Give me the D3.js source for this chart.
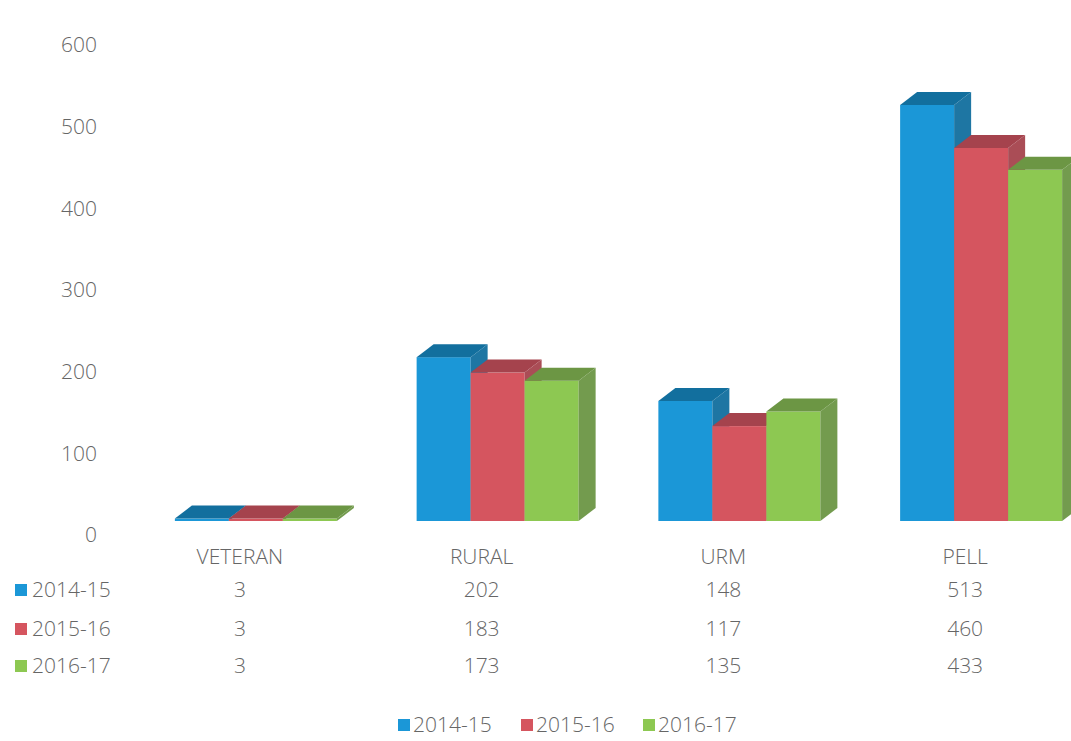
<!DOCTYPE html>
<html>
<head>
<meta charset="utf-8">
<script src="https://cdn.jsdelivr.net/npm/d3@7/dist/d3.min.js"></script>
<style>
  html, body { margin: 0; padding: 0; background: #fff; }
  svg { display: block; }
  text { font-family: "Open Sans", "Noto Sans", sans-serif; fill: #666666; font-weight: 300; }
</style>
</head>
<body>
<svg id="chart" width="1071" height="741"></svg>
<script>
const categories = ["VETERAN", "RURAL", "URM", "PELL"];
const seriesNames = ["2014-15", "2015-16", "2016-17"];
const values2014 = [3, 202, 148, 513];
const values2015 = [3, 183, 117, 460];
const values2016 = [3, 173, 135, 433];
const tickValues = [0, 100, 200, 300, 400, 500, 600];

const seriesValues = [values2014, values2015, values2016];
const frontColors = ["#1b97d7", "#d5555f", "#8dc852"];
const darkColors = ["#126f9e", "#a5434d", "#6c9644"];

const svg = d3.select("#chart");

// scales
const x = d3.scaleBand().domain(categories).range([119, 1086]);
const xs = d3.scaleBand().domain(seriesNames).range([0, 162]);
const yFront = d3.scaleLinear().domain([0, 600]).range([521, 34.4]);
const yAxis = d3.scaleLinear().domain([0, 600]).range([535, 45]);
const depthX = 17, depthY = -13;
const groupShift = -65; // group front start relative to category center

// y axis labels
const axisG = svg.append("g")
  .attr("transform", "translate(97,0)")
  .call(d3.axisLeft(yAxis).tickValues(tickValues).tickSize(0).tickPadding(0).tickFormat(d3.format("d")));
axisG.select(".domain").remove();
axisG.selectAll("text")
  .style("font-family", '"Open Sans", "Noto Sans", sans-serif')
  .style("font-size", "21px")
  .style("font-weight", "300")
  .attr("fill", "#666666");

// bars
const barsG = svg.append("g");
categories.forEach((cat, ci) => {
  const center = x(cat) + x.bandwidth() / 2;
  seriesNames.forEach((s, si) => {
    const v = seriesValues[si][ci];
    const x0 = center + groupShift + xs(s);
    const w = xs.bandwidth();
    const yT = yFront(v);
    const yB = yFront(0);
    const g = barsG.append("g");
    g.append("rect")
      .attr("x", x0).attr("y", yT)
      .attr("width", w).attr("height", Math.max(0, yB - yT))
      .attr("fill", frontColors[si]);
    g.append("polygon")
      .attr("points", [[x0, yT], [x0 + w, yT], [x0 + w + depthX, yT + depthY], [x0 + depthX, yT + depthY]].map(p => p.join(",")).join(" "))
      .attr("fill", darkColors[si]);
    g.append("polygon")
      .attr("points", [[x0 + w, yT], [x0 + w + depthX, yT + depthY], [x0 + w + depthX, yB + depthY], [x0 + w, yB]].map(p => p.join(",")).join(" "))
      .attr("fill", darkColors[si])
      .attr("opacity", 0.95);
  });
});

// data table
const headerY = 557;
const rowYs = [590, 629, 666];
const tableG = svg.append("g").style("font-size", "21px");
categories.forEach(cat => {
  tableG.append("text")
    .attr("x", x(cat) + x.bandwidth() / 2)
    .attr("y", headerY)
    .attr("dy", "0.35em")
    .attr("text-anchor", "middle")
    .text(cat);
});
seriesNames.forEach((s, si) => {
  tableG.append("rect")
    .attr("x", 15).attr("y", rowYs[si] - 6)
    .attr("width", 12).attr("height", 12)
    .attr("fill", frontColors[si]);
  tableG.append("text")
    .attr("x", 32).attr("y", rowYs[si])
    .attr("dy", "0.35em")
    .text(s);
  categories.forEach((cat, ci) => {
    tableG.append("text")
      .attr("x", x(cat) + x.bandwidth() / 2)
      .attr("y", rowYs[si])
      .attr("dy", "0.35em")
      .attr("text-anchor", "middle")
      .text(seriesValues[si][ci]);
  });
});

// legend
const legendX = d3.scaleOrdinal().domain(seriesNames).range([398, 521, 643]);
const legendY = 725;
const legG = svg.append("g").style("font-size", "21px");
seriesNames.forEach((s, si) => {
  legG.append("rect")
    .attr("x", legendX(s)).attr("y", legendY - 6)
    .attr("width", 12).attr("height", 12)
    .attr("fill", frontColors[si]);
  legG.append("text")
    .attr("x", legendX(s) + 15).attr("y", legendY)
    .attr("dy", "0.35em")
    .text(s);
});
</script>
</body>
</html>
